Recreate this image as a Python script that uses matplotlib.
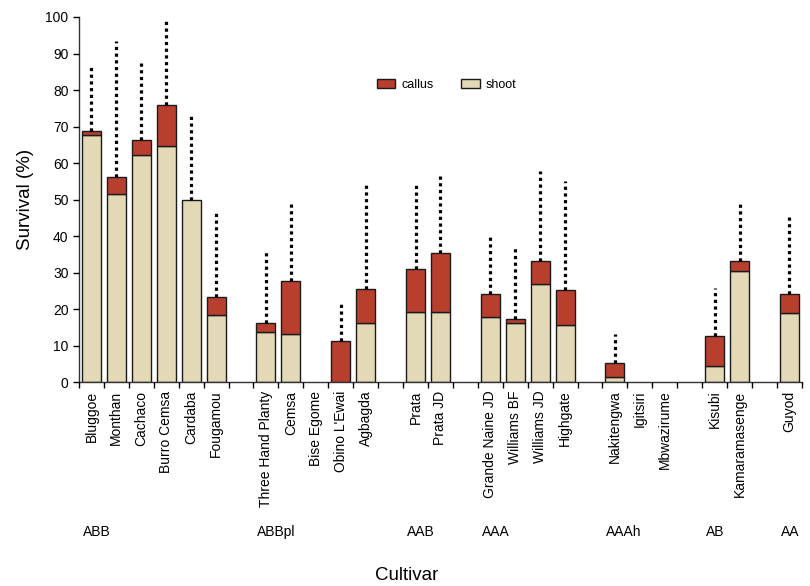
import numpy as np
import matplotlib
matplotlib.use("Agg")
import matplotlib.pyplot as plt
import matplotlib.transforms as mtransforms

plt.rcParams['font.family'] = ['Liberation Sans', 'DejaVu Sans']

# data
cultivars = ['Bluggoe', 'Monthan', 'Cachaco', 'Burro Cemsa', 'Cardaba', 'Fougamou',
             'Three Hand Planty', 'Cemsa', 'Bise Egome', "Obino L'Ewai", 'Agbagda',
             'Prata', 'Prata JD',
             'Grande Naine JD', 'Williams BF', 'Williams JD', 'Highgate',
             'Nakitengwa', 'Igitsiri', 'Mbwazirume',
             'Kisubi', 'Kamaramasenge',
             'Guyod']
genome = ['ABB'] * 6 + ['ABBpl'] * 5 + ['AAB'] * 2 + ['AAA'] * 4 + ['AAAh'] * 3 + ['AB'] * 2 + ['AA']
shoot = [67.6, 51.5, 62.3, 64.6, 49.9, 18.5,
         13.7, 13.1, 0, 0, 16.2,
         19.3, 19.3,
         17.8, 16.2, 27.0, 15.6,
         1.5, 0, 0,
         4.4, 30.4,
         19.1]
callus = [1.3, 4.8, 4.1, 11.4, 0, 4.9,
          2.5, 14.6, 0, 11.3, 9.3,
          11.8, 16.1,
          6.4, 1.2, 6.2, 9.7,
          3.7, 0, 0,
          8.4, 2.7,
          5.0]
sd = [18.0, 37.0, 21.6, 23.2, 23.1, 23.5,
      19.6, 21.7, np.nan, 10.9, 28.8,
      23.0, 21.8,
      16.5, 20.0, 24.6, 29.8,
      8.0, np.nan, np.nan,
      13.1, 16.4,
      21.8]

shoot_color = '#e3d9b6'
callus_color = '#b83f2e'

# positions: one empty slot between genome groups
pos = []
p = 0
for i, g in enumerate(genome):
    if i > 0:
        p += 1
        if g != genome[i - 1]:
            p += 1
    pos.append(p)
pos = np.array(pos)
n_slots = pos[-1] + 1

shoot = np.array(shoot)
callus = np.array(callus)
sd = np.array(sd)
total = shoot + callus

fig = plt.figure(figsize=(8.1, 5.86), dpi=100)
ax = fig.add_axes([0.0975, 0.3476, 0.8925, 0.6234])

# no outline for empty segments
shoot_lw = np.where(shoot > 0, 1.0, 0.0)
callus_lw = np.where(callus > 0, 1.0, 0.0)
ax.bar(pos, shoot, width=0.76, color=shoot_color, edgecolor='#1a1a1a', linewidth=shoot_lw, label='shoot')
ax.bar(pos, callus, width=0.76, bottom=shoot, color=callus_color, edgecolor='#1a1a1a',
       linewidth=callus_lw, label='callus')

has_err = ~np.isnan(sd)
ax.vlines(pos[has_err], total[has_err], total[has_err] + sd[has_err], colors='black',
          linewidth=2.3, linestyles=[(0, (1, 1.1))])

ax.set_xlim(-0.5, n_slots - 0.5)
ax.set_ylim(0, 100)
ax.set_yticks(np.arange(0, 101, 10))

# boundary ticks and centred names
ax.set_xticks(np.arange(-0.5, n_slots, 1.0))
ax.set_xticklabels([])
ax.set_xticks(pos, minor=True)
ax.set_xticklabels(cultivars, minor=True, rotation=90, fontsize=10, va='top')
ax.tick_params(axis='x', which='major', direction='out', length=4, width=1)
ax.tick_params(axis='x', which='minor', length=0, pad=6)
ax.tick_params(axis='y', direction='out', length=4, width=1, labelsize=10)

for side in ['top', 'right']:
    ax.spines[side].set_visible(False)
for side in ['left', 'bottom']:
    ax.spines[side].set_linewidth(1.0)
    ax.spines[side].set_color('#333333')
ax.set_axisbelow(False)

ax.set_ylabel('Survival (%)', fontsize=13.5, labelpad=8)
ax.set_xlabel('Cultivar', fontsize=13.5)
ax.xaxis.set_label_coords(0.454, -0.505)

# genome group labels
trans = mtransforms.blended_transform_factory(ax.transData, ax.transAxes)
for i, g in enumerate(genome):
    if i == 0 or g != genome[i - 1]:
        ax.text(pos[i] - 0.35, -0.41, g, transform=trans, ha='left', va='center', fontsize=10)

handles, labels = ax.get_legend_handles_labels()
ax.legend(handles[::-1], labels[::-1], loc='center', bbox_to_anchor=(0.551, 0.855),
          bbox_transform=fig.transFigure, ncol=2, frameon=False, fontsize=9,
          handlelength=1.5, handleheight=0.75, handletextpad=0.45, columnspacing=2.2)

fig.savefig('out.png', dpi=100)
